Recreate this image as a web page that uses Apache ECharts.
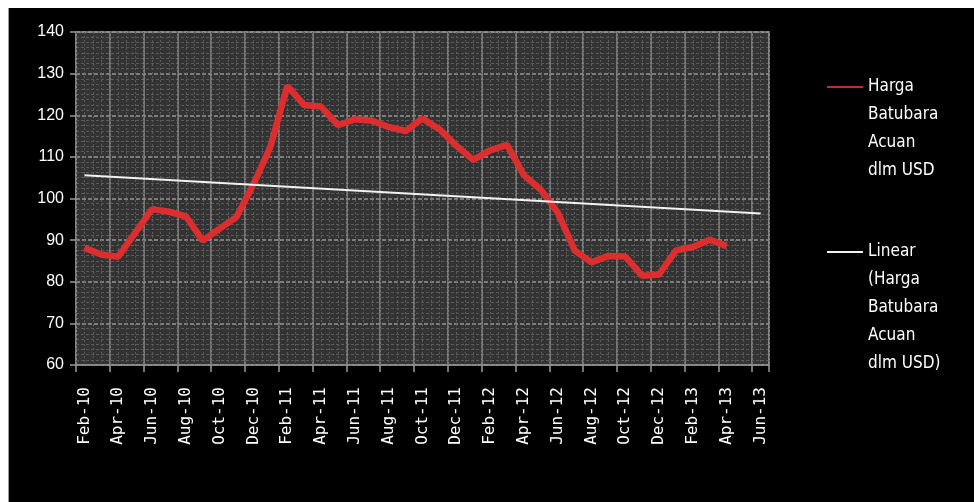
<!DOCTYPE html>
<html>
<head>
<meta charset="utf-8">
<script src="https://cdn.jsdelivr.net/npm/echarts@6/dist/echarts.min.js"></script>
<style>
  html, body { margin: 0; padding: 0; background: #fff; }
  #chart { position: absolute; left: 8px; top: 8px; width: 966px; height: 494px; border-left: 1px solid #9a9a9a; box-sizing: border-box; }
</style>
</head>
<body>
<div id="chart"></div>
<script>
// Monthly categories, Feb 2010 – Jun 2013
const months = [
  'Feb-10','Mar-10','Apr-10','May-10','Jun-10','Jul-10','Aug-10','Sep-10','Oct-10','Nov-10','Dec-10',
  'Jan-11','Feb-11','Mar-11','Apr-11','May-11','Jun-11','Jul-11','Aug-11','Sep-11','Oct-11','Nov-11','Dec-11',
  'Jan-12','Feb-12','Mar-12','Apr-12','May-12','Jun-12','Jul-12','Aug-12','Sep-12','Oct-12','Nov-12','Dec-12',
  'Jan-13','Feb-13','Mar-13','Apr-13','May-13','Jun-13'
];

// Harga Batubara Acuan (USD/ton), Feb 2010 – Apr 2013
const hba = [
  88.14, 86.53, 86.02, 91.73, 97.44, 96.82, 95.73, 89.87, 92.78, 95.60, 103.41,
  112.40, 127.05, 122.46, 122.08, 117.61, 119.03, 118.68, 117.18, 116.21, 119.24, 116.65, 112.67,
  109.29, 111.58, 112.87, 105.61, 102.12, 96.65, 87.56, 84.65, 86.21, 86.04, 81.44, 81.75,
  87.55, 88.35, 90.09, 88.56
];

// Linear trend end points (first and last category)
const trendStart = 105.6;
const trendEnd = 96.4;

// Value axis ticks
const yTicks = [60, 70, 80, 90, 100, 110, 120, 130, 140];

const seriesNames = ['Harga Batubara Acuan dlm USD', 'Linear (Harga Batubara Acuan dlm USD)'];
const legendLines = [
  ['Harga', 'Batubara', 'Acuan', 'dlm USD'],
  ['Linear', '(Harga', 'Batubara', 'Acuan', 'dlm USD)']
];

const chart = echarts.init(document.getElementById('chart'), null, { renderer: 'canvas' });

// Legend text is centred on its icon, so blank lines are put in front
// of the wrapped name to bring its first line level with the icon.
const legendLineHeight = 28;
function legendFor(idx, iconY) {
  const n = legendLines[idx].length;
  const total = 2 * n - 1;
  const text = '\n'.repeat(n - 1) + legendLines[idx].join('\n');
  return {
    data: [{ name: seriesNames[idx], icon: 'rect' }],
    orient: 'vertical',
    left: 813,
    top: iconY - (total * legendLineHeight) / 2,
    itemWidth: 36,
    itemHeight: 2,
    formatter: () => text,
    textStyle: {
      color: '#ffffff',
      fontFamily: '"Liberation Sans Narrow", "DejaVu Sans Condensed", sans-serif',
      fontSize: 17,
      lineHeight: legendLineHeight
    },
    selectedMode: false
  };
}

chart.setOption({
  backgroundColor: '#000000',
  animation: false,
  grid: {
    left: 67, top: 24, right: 205, bottom: 137,
    show: true,
    backgroundColor: '#333333',
    borderColor: '#8a8a8a',
    borderWidth: 1.5
  },
  legend: [legendFor(0, 74), legendFor(1, 239)],
  xAxis: [
    {
      type: 'category',
      data: months,
      boundaryGap: true,
      axisLine: { show: true, lineStyle: { color: '#8a8a8a', width: 1.5 } },
      axisTick: { show: true, interval: 1, length: 7, lineStyle: { color: '#9a9a9a', width: 1.5 } },
      splitLine: { show: true, interval: 1, lineStyle: { color: '#8e8e8e', width: 1.5 } },
      axisLabel: {
        interval: 1,
        rotate: 90,
        margin: 22,
        color: '#ffffff',
        fontFamily: '"DejaVu Sans Mono", monospace',
        fontSize: 16
      }
    },
    {
      // fine vertical texture lines of the plot area
      type: 'value',
      min: 0, max: 41, interval: 0.5,
      position: 'top',
      axisLine: { show: false },
      axisTick: { show: false },
      axisLabel: { show: false },
      splitLine: { show: true, lineStyle: { color: '#5a5a5a', width: 1, type: [2, 2] } }
    }
  ],
  yAxis: {
    type: 'value',
    min: yTicks[0],
    max: yTicks[yTicks.length - 1],
    interval: 10,
    axisLine: { show: false },
    axisTick: { show: true, length: 6, lineStyle: { color: '#9a9a9a', width: 1.5 } },
    axisLabel: {
      margin: 12,
      color: '#ffffff',
      fontFamily: '"Liberation Sans", Arial, sans-serif',
      fontSize: 16
    },
    splitLine: { show: true, lineStyle: { color: '#959595', width: 1.5, type: [4, 2] } },
    minorTick: { show: false, splitNumber: 8 },
    minorSplitLine: { show: true, lineStyle: { color: '#5a5a5a', width: 1, type: [3, 2] } }
  },
  series: [
    {
      name: seriesNames[0],
      type: 'line',
      xAxisIndex: 0,
      data: hba,
      symbol: 'none',
      lineStyle: { color: '#dc2e2e', width: 6.5 },
      itemStyle: { color: '#b83030' },
      z: 3
    },
    {
      name: seriesNames[1],
      type: 'line',
      xAxisIndex: 0,
      data: [[months[0], trendStart], [months[months.length - 1], trendEnd]],
      symbol: 'none',
      lineStyle: { color: '#f2f2f2', width: 2 },
      itemStyle: { color: '#f2f2f2' },
      z: 4
    }
  ]
});
</script>
</body>
</html>
